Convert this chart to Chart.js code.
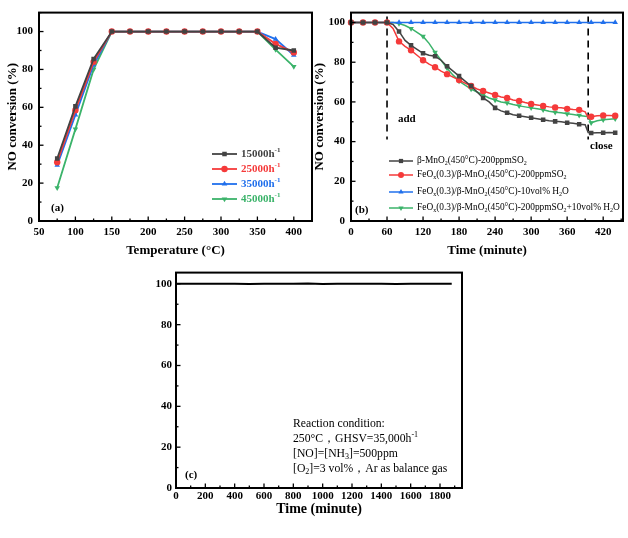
<!DOCTYPE html>
<html>
<head>
<meta charset="utf-8">
<script src="https://cdn.jsdelivr.net/npm/chart.js@4.4.1/dist/chart.umd.min.js"></script>
<style>
  body { margin: 0; background: #fff; }
  #wrap { position: relative; width: 628px; height: 538px; overflow: hidden; }
  canvas { position: absolute; }
</style>
</head>
<body>
<div id="wrap">
  <canvas id="chartA" width="316" height="262" style="left:0;top:0"></canvas>
  <canvas id="chartB" width="322" height="262" style="left:306px;top:0"></canvas>
  <canvas id="chartC" width="340" height="276" style="left:130px;top:262px"></canvas>
</div>
<script>
const FONT = "'Liberation Serif', 'Times New Roman', serif";

// ---- panel (a): conversion vs temperature at different GHSV ----
const tempA = [75, 100, 125, 150, 175, 200, 225, 250, 275, 300, 325, 350, 375, 400];
const gh15000 = [33, 60.5, 85.5, 100, 100, 100, 100, 100, 100, 100, 100, 100, 91.5, 90];
const gh25000 = [31, 58.5, 84, 100, 100, 100, 100, 100, 100, 100, 100, 100, 93.5, 89];
const gh35000 = [29.5, 56, 82.5, 100, 100, 100, 100, 100, 100, 100, 100, 100, 96, 87.5];
const gh45000 = [17.5, 48.5, 80, 100, 100, 100, 100, 100, 100, 100, 100, 100, 90.5, 81.5];
const xTicksA = [50, 100, 150, 200, 250, 300, 350, 400];
const yTicks = [0, 20, 40, 60, 80, 100];

// ---- panel (b): SO2 / H2O resistance over time ----
const timeB = [0, 10, 20, 30, 40, 50, 60, 70, 80, 90, 100, 110, 120, 130, 140, 150, 160, 170, 180, 190,
  200, 210, 220, 230, 240, 250, 260, 270, 280, 290, 300, 310, 320, 330, 340, 350, 360, 370, 380, 390,
  395, 400, 410, 420, 430, 440];
const mnSO2 = [100, 100, 100, 100, 100, 100, 100, 99, 95.5, 91, 88.5, 86.5, 84.5, 83.5, 83, 81, 78, 75.5, 73, 70.5,
  68, 65, 62, 60, 57, 55.5, 54.5, 53.5, 53, 52.5, 52, 51.5, 51, 50.5, 50.2, 50, 49.5, 49.2, 48.8, 48.5,
  44.5, 44.3, 44.5, 44.5, 44.6, 44.5];
const feSO2 = [100, 100, 100, 100, 100, 100, 100, 97, 90.5, 88, 86, 83.5, 81, 79, 77.5, 75.5, 74, 72.5, 71, 69.5,
  68, 66.5, 65.5, 64.5, 63.5, 62.5, 62, 61, 60.5, 59.7, 59, 58.5, 58, 57.5, 57.2, 57, 56.5, 56.2, 56, 55,
  52, 52.5, 53, 53.2, 53.2, 53];
const feH2O = [100, 100, 100, 100, 100, 100, 100, 100, 100, 100, 100, 100, 100, 100, 100, 100, 100, 100, 100, 100,
  100, 100, 100, 100, 100, 100, 100, 100, 100, 100, 100, 100, 100, 100, 100, 100, 100, 100, 100, 100,
  100, 100, 100, 100, 100, 100];
const feSO2H2O = [100, 100, 100, 100, 100, 100, 100, 100, 99.5, 98.5, 97, 95, 93, 89.5, 85, 81, 77, 73.5, 70.5, 68.5,
  66.5, 65, 63.5, 62, 61, 60, 59.5, 58.7, 58, 57.5, 57, 56.5, 56, 55.3, 54.8, 54.5, 54, 53.6, 53.2, 52.8,
  52.5, 49.5, 50.5, 51, 51.3, 51.5];
const gasOnOff = [60, 395];      // "add" and "close" times
const markerLineY = [103, 41];   // extent of dashed markers
const xTicksB = [0, 60, 120, 180, 240, 300, 360, 420];

// ---- panel (c): long-term stability ----
const timeC = [0, 100, 200, 300, 400, 500, 600, 700, 800, 900, 1000, 1100, 1200, 1300, 1400, 1500, 1600, 1700, 1800, 1880];
const stableC = [100, 100, 100, 100, 100, 99.9, 100, 100, 100, 100.2, 99.9, 100, 100, 100, 100, 99.9, 100, 100, 100, 100];
const xTicksC = [0, 200, 400, 600, 800, 1000, 1200, 1400, 1600, 1800];

Chart.defaults.font.family = FONT;
Chart.defaults.color = '#000';
Chart.defaults.animation = false;

// text with _{sub} and ^{sup}
function drawRich(ctx, str, x, y, size, weight, color, align) {
  const parts = [];
  const re = /([_^])\{([^}]*)\}/g;
  let last = 0, m;
  while ((m = re.exec(str))) {
    if (m.index > last) parts.push({ t: str.slice(last, m.index), k: '' });
    parts.push({ t: m[2], k: m[1] });
    last = re.lastIndex;
  }
  if (last < str.length) parts.push({ t: str.slice(last), k: '' });
  const fontFor = k => weight + ' ' + (k ? Math.round(size * 0.65) : size) + 'px ' + FONT;
  let total = 0;
  parts.forEach(p => { ctx.font = fontFor(p.k); p.w = ctx.measureText(p.t).width; total += p.w; });
  let cx = align === 'center' ? x - total / 2 : align === 'right' ? x - total : x;
  ctx.fillStyle = color;
  ctx.textBaseline = 'middle';
  ctx.textAlign = 'left';
  parts.forEach(p => {
    ctx.font = fontFor(p.k);
    const dy = p.k === '^' ? -size * 0.33 : p.k === '_' ? size * 0.28 : 0;
    ctx.fillText(p.t, cx, y + dy);
    cx += p.w;
  });
}

// frame + inward tick marks
const frameTicks = {
  id: 'frameTicks',
  afterDatasetsDraw(chart, args, opts) {
    const { ctx, chartArea: a, scales } = chart;
    ctx.save();
    ctx.strokeStyle = '#000';
    ctx.lineWidth = 1.3;
    const tick = (x1, y1, x2, y2) => { ctx.beginPath(); ctx.moveTo(x1, y1); ctx.lineTo(x2, y2); ctx.stroke(); };
    for (let v = scales.x.min; v <= scales.x.max + 1e-9; v += opts.xMinor) {
      const px = scales.x.getPixelForValue(v);
      const major = opts.xMajor.includes(v);
      tick(px, a.bottom, px, a.bottom - (major ? 4.5 : 2.5));
    }
    for (let v = 0; v <= scales.y.max + 1e-9; v += opts.yMinor) {
      const py = scales.y.getPixelForValue(v);
      const major = yTicks.includes(v);
      tick(a.left, py, a.left + (major ? 4.5 : 2.5), py);
    }
    ctx.lineWidth = 2;
    ctx.strokeRect(a.left, a.top, a.width, a.height);
    ctx.restore();
  }
};

// panel labels + legend
const panelText = {
  id: 'panelText',
  afterDraw(chart, args, opts) {
    const ctx = chart.ctx;
    ctx.save();
    (opts.items || []).forEach(t => drawRich(ctx, t.text, t.x, t.y, t.size, t.weight || 'normal', '#000', 'left'));
    const lg = opts.legend;
    if (lg) {
      let row = 0;
      chart.data.datasets.forEach(ds => {
        if (!ds.inLegend) return;
        const y = lg.rows[row++];
        ctx.strokeStyle = ds.borderColor;
        ctx.fillStyle = ds.borderColor;
        ctx.lineWidth = ds.borderWidth;
        ctx.beginPath(); ctx.moveTo(lg.x0, y); ctx.lineTo(lg.x1, y); ctx.stroke();
        Chart.helpers.drawPoint(ctx, { pointStyle: ds.pointStyle, rotation: ds.rotation || 0, radius: lg.r, borderWidth: 0 }, (lg.x0 + lg.x1) / 2, y);
        drawRich(ctx, ds.label, lg.tx, y, lg.size, lg.weight, lg.colored ? ds.borderColor : '#000', 'left');
      });
    }
    ctx.restore();
  }
};

function scale(o) {
  return {
    type: 'linear', min: o.min, max: o.max,
    grid: { display: false, drawTicks: false },
    border: { display: false },
    ticks: {
      font: { size: 11, weight: 'bold' }, color: '#000', padding: o.pad,
      maxRotation: 0, autoSkip: false, callback: v => String(v)
    },
    afterBuildTicks: s => { s.ticks = o.ticks.map(v => ({ value: v })); },
    afterFit: s => {
      if (o.width != null) s.width = o.width;
      if (o.height != null) s.height = o.height;
    },
    title: o.title
      ? { display: true, text: o.title, font: { size: o.titleSize || 13, weight: 'bold' }, color: '#000', padding: o.titlePad }
      : { display: false }
  };
}

function series(label, xs, ys, color, style, rot, opt) {
  return Object.assign({
    label: label,
    data: xs.map((x, i) => ({ x: x, y: ys[i] })),
    borderColor: color, backgroundColor: color,
    borderWidth: 1.8, pointStyle: style, rotation: rot, pointRadius: 3.2,
    pointBorderWidth: 0, pointHoverRadius: 0, tension: 0, clip: 6, inLegend: true
  }, opt || {});
}

const BLACK = '#434343', RED = '#f53a3a', BLUE = '#2170ec', GREEN = '#3bb36a';

new Chart(document.getElementById('chartA'), {
  type: 'line',
  data: {
    datasets: [
      series('15000h^{-1}', tempA, gh15000, BLACK, 'rect', 0),
      series('25000h^{-1}', tempA, gh25000, RED, 'circle', 0),
      series('35000h^{-1}', tempA, gh35000, BLUE, 'triangle', 0),
      series('45000h^{-1}', tempA, gh45000, GREEN, 'triangle', 180)
    ]
  },
  options: {
    responsive: false, devicePixelRatio: 1,
    layout: { padding: { left: 0, right: 4, top: 3, bottom: 0 } },
    scales: {
      x: scale({ min: 50, max: 425, ticks: xTicksA, pad: 5, height: 41, title: 'Temperature (°C)', titlePad: { top: 0, bottom: 4 } }),
      y: scale({ min: 0, max: 110, ticks: yTicks, pad: 6, width: 39, title: 'NO conversion (%)', titlePad: { top: 5, bottom: 0 } })
    },
    plugins: {
      legend: { display: false }, tooltip: { enabled: false },
      frameTicks: { xMajor: xTicksA, xMinor: 25, yMinor: 10 },
      panelText: {
        items: [{ text: '(a)', x: 51, y: 208, size: 11, weight: 'bold' }],
        legend: { x0: 212, x1: 237, tx: 241, rows: [154, 169, 184, 199], r: 3.2, size: 11, weight: 'bold', colored: true }
      }
    }
  },
  plugins: [frameTicks, panelText]
});

const markEvery20 = c => (c.raw && c.raw.x % 20 === 0) ? 3.2 : 0;

new Chart(document.getElementById('chartB'), {
  type: 'line',
  data: {
    datasets: [
      series('β-MnO_{2}(450°C)-200ppmSO_{2}', timeB, mnSO2, BLACK, 'rect', 0, { borderWidth: 1.5, pointRadius: markEvery20 }),
      series('FeO_{x}(0.3)/β-MnO_{2}(450°C)-200ppmSO_{2}', timeB, feSO2, RED, 'circle', 0, { borderWidth: 1.5, pointRadius: markEvery20 }),
      series('FeO_{x}(0.3)/β-MnO_{2}(450°C)-10vol% H_{2}O', timeB, feH2O, BLUE, 'triangle', 0, { borderWidth: 1.5, pointRadius: markEvery20 }),
      series('FeO_{x}(0.3)/β-MnO_{2}(450°C)-200ppmSO_{2}+10vol% H_{2}O', timeB, feSO2H2O, GREEN, 'triangle', 180, { borderWidth: 1.5, pointRadius: markEvery20 }),
      ...gasOnOff.map(t => ({
        data: markerLineY.map(y => ({ x: t, y: y })),
        borderColor: '#000', borderWidth: 1.6, borderDash: [7, 5], pointRadius: 0, inLegend: false
      }))
    ]
  },
  options: {
    responsive: false, devicePixelRatio: 1,
    layout: { padding: { left: 0, right: 5, top: 4, bottom: 0 } },
    scales: {
      x: scale({ min: 0, max: 453, ticks: xTicksB, pad: 5, height: 41, title: 'Time (minute)', titlePad: { top: 0, bottom: 4 } }),
      y: scale({ min: 0, max: 105, ticks: yTicks, pad: 6, width: 45, title: 'NO conversion (%)', titlePad: { top: 6, bottom: 0 } })
    },
    plugins: {
      legend: { display: false }, tooltip: { enabled: false },
      frameTicks: { xMajor: xTicksB, xMinor: 30, yMinor: 10 },
      panelText: {
        items: [
          { text: '(b)', x: 49, y: 210, size: 11, weight: 'bold' },
          { text: 'add', x: 92, y: 119, size: 11, weight: 'bold' },
          { text: 'close', x: 284, y: 146, size: 11, weight: 'bold' }
        ],
        legend: { x0: 83, x1: 107, tx: 111, rows: [161, 175, 192, 208], r: 3, size: 9.4, weight: 'normal', colored: false }
      }
    }
  },
  plugins: [frameTicks, panelText]
});

new Chart(document.getElementById('chartC'), {
  type: 'line',
  data: {
    datasets: [{
      data: timeC.map((t, i) => ({ x: t, y: stableC[i] })),
      borderColor: '#000', borderWidth: 2, pointRadius: 0, tension: 0
    }]
  },
  options: {
    responsive: false, devicePixelRatio: 1,
    layout: { padding: { left: 0, right: 8, top: 2, bottom: 0 } },
    scales: {
      x: scale({ min: 0, max: 1950, ticks: xTicksC, pad: 2, height: 50, title: 'Time (minute)', titleSize: 14, titlePad: { top: 0, bottom: 20 } }),
      y: scale({ min: 0, max: 105.5, ticks: yTicks, pad: 4, width: 46 })
    },
    plugins: {
      legend: { display: false }, tooltip: { enabled: false },
      frameTicks: { xMajor: xTicksC, xMinor: 100, yMinor: 10 },
      panelText: {
        items: [
          { text: '(c)', x: 55, y: 213, size: 11, weight: 'bold' },
          { text: 'Reaction condition:', x: 163, y: 162, size: 11.7 },
          { text: '250°C，GHSV=35,000h^{-1}', x: 163, y: 177, size: 11.7 },
          { text: '[NO]=[NH_{3}]=500ppm', x: 163, y: 192, size: 11.7 },
          { text: '[O_{2}]=3 vol%，Ar as balance gas', x: 163, y: 207, size: 11.7 }
        ]
      }
    }
  },
  plugins: [frameTicks, panelText]
});
</script>
</body>
</html>
